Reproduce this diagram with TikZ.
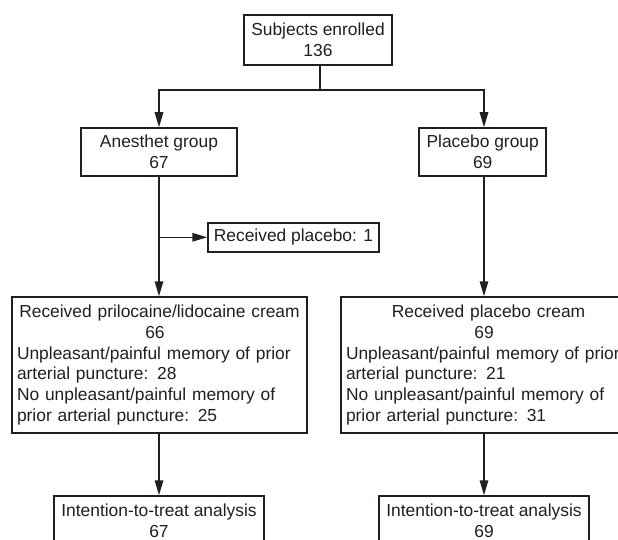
\documentclass[tikz,border=0pt]{standalone}
\usepackage{fontspec}
\setmainfont{Liberation Sans}
\usetikzlibrary{arrows.meta}
\definecolor{ink}{HTML}{231F20}
\begin{document}
\begin{tikzpicture}[x=1pt,y=-1pt,
  every node/.style={font=\fontsize{17.4}{20.7}\selectfont, text=ink},
  box/.style={draw=ink, line width=1.5pt, rectangle, inner sep=0pt, align=center},
  bigbox/.style={draw=ink, line width=1.5pt, rectangle, inner xsep=5pt, inner ysep=0pt,
     text width=285pt, minimum height=136pt, align=left},
  arr/.style={draw=ink, line width=1.5pt, -{Triangle[length=15pt,width=8.5pt]}},
  ln/.style={draw=ink, line width=1.5pt}]
\useasboundingbox (0,0) rectangle (618,540);
\clip (0,0) rectangle (618,540);
\fill[white] (0,0) rectangle (618,540);

\node[box, minimum width=148pt, minimum height=50pt] (top) at (318,40) {Subjects enrolled\\136};
\node[box, minimum width=156pt, minimum height=48pt] (anes) at (159,152) {Anesthet group\\67};
\node[box, minimum width=127pt, minimum height=48pt] (plac) at (482.7,152) {Placebo group\\69};
\node[box, minimum width=171pt, minimum height=29pt] (recv) at (293.5,237.3) {Received placebo: 1};

\node[bigbox] (lbig) at (159.5,365) {\centering Received prilocaine/lidocaine cream\\\hspace*{-9pt}66\par
\raggedright Unpleasant/painful memory of prior\\arterial puncture: 28\\No unpleasant/painful memory of\\prior arterial puncture: 25};
\node[bigbox] (rbig) at (488.5,365) {\centering Received placebo cream\\\hspace*{-9pt}69\par
\raggedright Unpleasant/painful memory of prior\\arterial puncture: 21\\No unpleasant/painful memory of\\prior arterial puncture: 31};

\node[box, minimum width=210pt, minimum height=50pt] (lbot) at (159,521) {Intention-to-treat analysis\\67};
\node[box, minimum width=210pt, minimum height=50pt] (rbot) at (484,521) {Intention-to-treat analysis\\69};

\coordinate (split) at (320,90);
\draw[ln] (320,0 |- top.south) -- (split);
\draw[arr] (split) -| (anes.north);
\draw[arr] (split) -| (484,0 |- plac.north);
\draw[arr] (anes.south) -- (anes.south |- lbig.north);
\coordinate (branch) at (anes.south |- recv.west);
\draw[arr] (branch) -- (recv.west);
\draw[arr] (484,0 |- plac.south) -- (484,0 |- rbig.north);
\draw[arr] (lbot.north |- lbig.south) -- (lbot.north);
\draw[arr] (rbot.north |- rbig.south) -- (rbot.north);
\end{tikzpicture}
\end{document}
